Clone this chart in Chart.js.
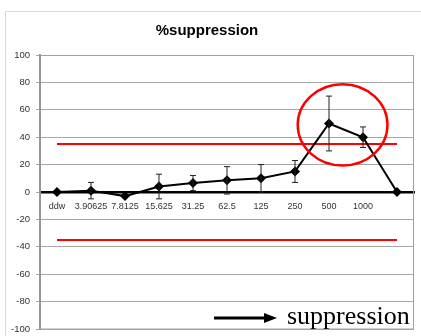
<!DOCTYPE html>
<html>
<head>
<meta charset="utf-8">
<script src="https://cdn.jsdelivr.net/npm/chart.js@4"></script>
<style>
  html, body { margin: 0; padding: 0; background: #fff; }
  #wrap { width: 421px; height: 336px; }
</style>
</head>
<body>
<div id="wrap"><canvas id="chart"></canvas></div>
<script>
// Data
const doses = ["ddw", "3.90625", "7.8125", "15.625", "31.25", "62.5", "125", "250", "500", "1000", ""];
const suppression = [0, 1, -3, 4, 6.5, 8.5, 10, 15, 50, 40, 0];
const errors = [0, 6, 0, 9, 5.5, 10, 10, 8, 20, 7.5, 0];
const yTicks = [100, 80, 60, 40, 20, 0, -20, -40, -60, -80, -100];
const thresholdUpper = 35;
const thresholdLower = -35;

// threshold line only has its two end points, the gap is spanned
function thresholdLine(value) {
  return doses.map((_, i) => (i === 0 || i === doses.length - 1 ? value : null));
}

// Error bars drawn from the errors array through the chart scales
const errorBars = {
  id: "errorBars",
  afterDatasetsDraw(chart) {
    const { ctx, scales: { x, y } } = chart;
    ctx.save();
    ctx.strokeStyle = "#222";
    ctx.lineWidth = 1;
    suppression.forEach((v, i) => {
      if (!errors[i]) return;
      const px = x.getPixelForValue(i);
      const top = y.getPixelForValue(v + errors[i]);
      const bot = y.getPixelForValue(v - errors[i]);
      ctx.beginPath();
      ctx.moveTo(px, top); ctx.lineTo(px, bot);
      ctx.moveTo(px - 3, top); ctx.lineTo(px + 3, top);
      ctx.moveTo(px - 3, bot); ctx.lineTo(px + 3, bot);
      ctx.stroke();
    });
    ctx.restore();
  }
};

// Frame, outer border, red circle and the arrow note
const decorations = {
  id: "decorations",
  beforeDraw(chart) {
    const { ctx } = chart;
    ctx.save();
    ctx.strokeStyle = "#d9d9d9";
    ctx.lineWidth = 1;
    ctx.beginPath();
    ctx.moveTo(5.5, 336); ctx.lineTo(5.5, 11.5); ctx.lineTo(421, 11.5);
    ctx.stroke();
    ctx.restore();
  },
  afterDraw(chart) {
    const { ctx, chartArea: a, scales: { x, y } } = chart;
    ctx.save();
    ctx.strokeStyle = "#a0a0a0";
    ctx.lineWidth = 1;
    ctx.strokeRect(a.left, a.top + 0.5, a.right - a.left - 0.5, a.bottom - a.top - 0.5);

    // red ellipse around the 500 / 1000 points
    const cx = x.getPixelForValue(8.4);
    const cy = y.getPixelForValue(49);
    const rx = x.getPixelForValue(8.4 + 1.32) - cx;
    const ry = cy - y.getPixelForValue(49 + 29.7);
    ctx.strokeStyle = "#ff0000";
    ctx.lineWidth = 2.5;
    ctx.beginPath();
    ctx.ellipse(cx, cy, rx, ry, 0, 0, Math.PI * 2);
    ctx.stroke();

    // arrow + text
    const ay = 318;
    ctx.strokeStyle = "#000";
    ctx.fillStyle = "#000";
    ctx.lineWidth = 3;
    ctx.beginPath();
    ctx.moveTo(214, ay); ctx.lineTo(266, ay);
    ctx.stroke();
    ctx.beginPath();
    ctx.moveTo(277, ay); ctx.lineTo(264, ay - 5); ctx.lineTo(264, ay + 5);
    ctx.closePath();
    ctx.fill();
    ctx.font = "26px 'Liberation Serif', 'Times New Roman', serif";
    ctx.textBaseline = "alphabetic";
    ctx.textAlign = "left";
    ctx.fillText("suppression", 287, 324);
    ctx.restore();
  }
};

new Chart(document.getElementById("chart"), {
  type: "line",
  data: {
    labels: doses,
    datasets: [
      {
        label: "%suppression",
        data: suppression,
        borderColor: "#000",
        backgroundColor: "#000",
        borderWidth: 2,
        pointStyle: "rectRot",
        pointRadius: 5,
        pointBorderWidth: 0,
        tension: 0,
      },
      {
        label: "upper",
        data: thresholdLine(thresholdUpper),
        borderColor: "#ff0000",
        borderWidth: 2,
        pointRadius: 0,
        spanGaps: true,
      },
      {
        label: "lower",
        data: thresholdLine(thresholdLower),
        borderColor: "#ff0000",
        borderWidth: 2,
        pointRadius: 0,
        spanGaps: true,
      },
    ],
  },
  options: {
    responsive: true,
    maintainAspectRatio: false,
    animation: false,
    layout: { padding: { left: 0, right: 7, bottom: 7, top: 0 } },
    plugins: {
      legend: { display: false },
      tooltip: { enabled: false },
      title: {
        display: true,
        text: "%suppression",
        color: "#000",
        font: { family: "'Liberation Sans', Arial, sans-serif", size: 15, weight: "bold", lineHeight: 1.2 },
        padding: { top: 22, bottom: 15 },
      },
    },
    scales: {
      x: {
        type: "category",
        offset: true,
        position: { y: 0 },
        grid: { display: false, drawTicks: false },
        border: { display: true, color: "#000", width: 2.5 },
        ticks: {
          autoSkip: false,
          maxRotation: 0,
          padding: 9,
          color: "#333",
          font: { family: "'Liberation Sans', Arial, sans-serif", size: 9 },
        },
      },
      y: {
        min: -100,
        max: 100,
        afterBuildTicks(scale) {
          scale.ticks = yTicks.map((v) => ({ value: v }));
        },
        afterFit(scale) {
          scale.width = 40;
          scale.paddingTop = 0;
          scale.paddingBottom = 0;
        },
        grid: { color: "#a6a6a6", lineWidth: 1, tickLength: 4 },
        border: { display: true, color: "#8c8c8c", width: 2 },
        ticks: {
          padding: 6,
          color: "#333",
          font: { family: "'Liberation Sans', Arial, sans-serif", size: 9.5 },
        },
      },
    },
  },
  plugins: [decorations, errorBars],
});
</script>
</body>
</html>
